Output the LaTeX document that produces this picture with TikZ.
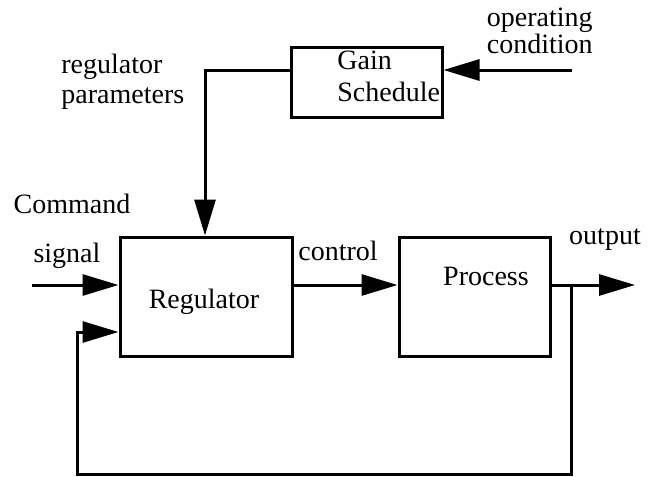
\documentclass[tikz,border=0pt]{standalone}
\usepackage{fontspec}
\setmainfont{Liberation Serif}
\usepackage{tikz}
\usetikzlibrary{arrows.meta}
\tikzstyle{Block}=[fill=white, line width = 1.5pt, draw=black, shape=rectangle, inner sep=0pt]
\tikzstyle{Label}=[inner sep=0pt, text=black, font=\fontsize{14pt}{16pt}\selectfont]
\tikzstyle{arrow}=[line width = 1.5pt, -{Triangle[length=18pt, width=10.5pt]}]
\pgfdeclarelayer{nodelayer}
\pgfdeclarelayer{edgelayer}
\pgfsetlayers{nodelayer, edgelayer}
\begin{document}
\begin{tikzpicture}[x=0.5pt, y=-0.5pt]
	\useasboundingbox (0, 0) rectangle (649, 477);
	\begin{pgfonlayer}{nodelayer}
		\node [style=Block, minimum width=75.5pt, minimum height=35pt] (gain) at (366.5, 82) {};
		\node [style=Block, minimum width=86pt, minimum height=59.5pt] (regulator) at (206, 296.5) {};
		\node [style=Block, minimum width=75.5pt, minimum height=59.5pt] (process) at (474.5, 296.5) {};
		% texts
		\node [style=Label, anchor=west, align=left, font=\fontsize{14pt}{16pt}\selectfont] (gaintext) at (337, 76.5) {Gain\\Schedule};
		\node [style=Label, anchor=base] (regtext) at (204, 308) {Regulator};
		\node [style=Label, anchor=base] (proctext) at (486, 285) {Process};
		\node [style=Label, anchor=east, align=right, font=\fontsize{14pt}{12.5pt}\selectfont] (operating) at (593, 31) {operating\\condition};
		\node [style=Label, anchor=west, align=left, font=\fontsize{14pt}{15pt}\selectfont] (parameters) at (61, 81.5) {regulator\\parameters};
		\node [style=Label, anchor=base] (command) at (72, 213) {Command};
		\node [style=Label, anchor=base] (signal) at (67, 262) {signal};
		\node [style=Label, anchor=base] (control) at (338, 260) {control};
		\node [style=Label, anchor=base] (output) at (605, 244) {output};
		% free ends and bends
		\coordinate (opin) at (572, 70);
		\coordinate (bend) at (205, 70);
		\coordinate (cmdin) at (32, 285);
		\coordinate (outend) at (635, 285);
		\coordinate (tap) at (571, 285);
		\coordinate (fbl) at (77, 474);
		\coordinate (fbin) at (77, 332);
	\end{pgfonlayer}
	\begin{pgfonlayer}{edgelayer}
		\draw [style=arrow] (opin) to (opin -| gain.east);
		\draw [style=arrow] (bend -| gain.west) -- (bend) -- (bend |- regulator.north);
		\draw [style=arrow] (cmdin) to (cmdin -| regulator.west);
		\draw [style=arrow] (cmdin -| regulator.east) to (cmdin -| process.west);
		\draw [style=arrow] (cmdin -| process.east) to (outend);
		% feedback
		\draw [style=arrow] (tap) |- (fbl) -- (fbin) -- (fbin -| regulator.west);
	\end{pgfonlayer}
\end{tikzpicture}
\end{document}
